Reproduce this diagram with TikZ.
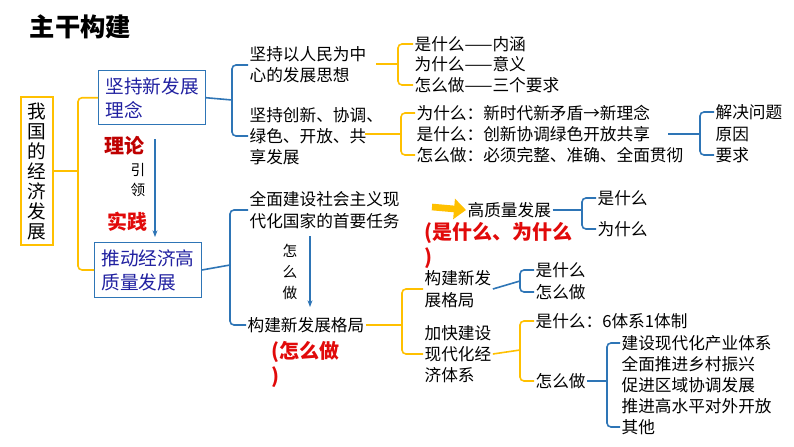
\documentclass[tikz,border=0pt]{standalone}
\usepackage{fontspec}
\setmainfont{Noto Sans CJK SC}
\usetikzlibrary{arrows.meta}
\definecolor{lineblue}{RGB}{46,117,182}
\definecolor{lineorange}{RGB}{255,192,0}
\definecolor{boxblue}{RGB}{32,32,160}
\definecolor{redtxt}{RGB}{225,10,10}
\tikzset{
	txt/.style={anchor=west, align=left, inner xsep=1pt, inner ysep=0pt, font=\fontsize{12.5pt}{16pt}\selectfont},
	blbox/.style={draw=lineblue, line width=1pt, anchor=north west, align=left, inner sep=5pt, text=boxblue, font=\fontsize{14pt}{18pt}\selectfont},
	bl/.style={draw=lineblue, line width=1.2pt, rounded corners=3pt},
	og/.style={draw=lineorange, line width=1.2pt, rounded corners=3pt},
	redlbl/.style={text=redtxt, font=\fontsize{15pt}{19pt}\selectfont\bfseries, inner sep=0pt, align=left},
}
\begin{document}
\begin{tikzpicture}[x=0.75pt, y=-0.75pt]
	\useasboundingbox (0,0) rectangle (794,447);
	\node[anchor=west, font=\fontsize{19pt}{22pt}\selectfont\bfseries] (title) at (25,27) {主干构建};

	% root
	\node[draw=lineorange, line width=1.2pt, align=center, inner xsep=5pt, inner ysep=4pt, font=\fontsize{14pt}{15pt}\selectfont] (root) at (37,171) {我\\国\\的\\经\\济\\发\\展};
	\node[blbox] (idea) at (98,70) {坚持新发展\\理念};
	\node[blbox] (push) at (94,242) {推动经济高\\质量发展};
	\draw[og] (root.east) -- (78,171) coordinate (k0);
	\draw[og] (k0) |- (idea.west);
	\draw[og] (k0) |- (push.west);

	% theory guides practice
	\node[redlbl, text=red!75!black] (theory) at (124,146) {理论};
	\node[redlbl] (practice) at (127,222) {实践};
	\node[txt, align=center, font=\fontsize{11pt}{15pt}\selectfont, anchor=center] (lead) at (138,180) {引\\领};
	\coordinate (g1) at (155,139);
	\coordinate (g2) at (155,237);
	\draw[lineblue, line width=1pt, -{Stealth[length=5pt]}] (g1) -- (g2);

	% 坚持新发展理念
	\node[txt] (peo) at (248,65) {坚持以人民为中\\心的发展思想};
	\node[txt] (five) at (248,136) {坚持创新、协调、\\绿色、开放、共\\享发展};
	\draw[bl] (idea.east) -- (232,100) coordinate (k1);
	\draw[bl] (k1) |- (peo.west);
	\draw[bl] (k1) |- (five.west);

	\node[txt] (p1) at (413,44) {是什么——内涵};
	\node[txt] (p2) at (413,64) {为什么——意义};
	\node[txt] (p3) at (413,85) {怎么做——三个要求};
	\draw[og] (376,64) -- (398,64) coordinate (k2);
	\draw[og] (k2) |- (p1.west);
	\draw[og] (k2) |- (p3.west);

	\node[txt] (f1) at (415,113) {为什么：新时代新矛盾→新理念};
	\node[txt] (f2) at (415,134) {是什么：创新协调绿色开放共享};
	\node[txt] (f3) at (415,155) {怎么做：必须完整、准确、全面贯彻};
	\draw[og] (365,134) -- (401,134) coordinate (k3);
	\draw[og] (k3) |- (f1.west);
	\draw[og] (k3) |- (f3.west);

	\node[txt] (r1) at (714,112) {解决问题};
	\node[txt] (r2) at (714,134) {原因};
	\node[txt] (r3) at (714,155) {要求};
	\draw[bl] (668,134) -- (700,134) coordinate (k4);
	\draw[bl] (k4) |- (r1.west);
	\draw[bl] (k4) |- (r3.west);

	% 推动经济高质量发展
	\node[txt] (task) at (248,210) {全面建设社会主义现\\代化国家的首要任务};
	\node[txt] (pattern) at (246,325) {构建新发展格局};
	\draw[bl] (push.east) -- (230,265) coordinate (k5);
	\draw[bl] (k5) |- (task.west);
	\draw[bl] (k5) |- (pattern.west);

	\coordinate (h1) at (310,236);
	\coordinate (h2) at (310,307);
	\draw[lineblue, line width=1pt, -{Stealth[length=5pt]}] (h1) -- (h2);
	\node[txt, align=center, font=\fontsize{11pt}{16pt}\selectfont, anchor=center] (how) at (290,272) {怎\\么\\做};

	\node[txt] (hq) at (466,210) {高质量发展};
	\coordinate (ya) at (432,207);
	\draw[lineorange, line width=5pt, -{Triangle[length=9pt, width=15pt]}] (ya) -- (hq.west);
	\node[redlbl, anchor=north west] (why) at (424,222) {(是什么、为什么\\)};
	\node[txt] (hq1) at (596,198) {是什么};
	\node[txt] (hq2) at (596,229) {为什么};
	\draw[bl] (hq.east) -- (582,210) coordinate (k6);
	\draw[bl] (k6) |- (hq1.west);
	\draw[bl] (k6) |- (hq2.west);

	\node[redlbl, anchor=north west] (howred) at (271,341) {(怎么做\\)};

	\node[txt] (np) at (423,289) {构建新发\\展格局};
	\node[txt] (eco) at (423,354) {加快建设\\现代化经\\济体系};
	\draw[og] (pattern.east) -- (402,325) coordinate (k7);
	\draw[og] (k7) |- (np.west);
	\draw[og] (k7) |- (eco.west);

	\node[txt] (np1) at (534,270) {是什么};
	\node[txt] (np2) at (534,292) {怎么做};
	\draw[bl] (np.east) -- (520,281) coordinate (k8);
	\draw[bl] (k8) |- (np1.west);
	\draw[bl] (k8) |- (np2.west);

	\node[txt] (e1) at (534,321) {是什么：6体系1体制};
	\node[txt] (e2) at (534,381) {怎么做};
	\draw[og] (eco.east) -- (520,350) coordinate (k9);
	\draw[og] (k9) |- (e1.west);
	\draw[og] (k9) |- (e2.west);

	\node[txt] (w1) at (620,343) {建设现代化产业体系};
	\node[txt] (w2) at (620,364) {全面推进乡村振兴};
	\node[txt] (w3) at (620,385) {促进区域协调发展};
	\node[txt] (w4) at (620,406) {推进高水平对外开放};
	\node[txt] (w5) at (620,427) {其他};
	\draw[bl] (e2.east) -- (607,381) coordinate (k10);
	\draw[bl] (k10) |- (w1.west);
	\draw[bl] (k10) |- (w5.west);
\end{tikzpicture}
\end{document}
